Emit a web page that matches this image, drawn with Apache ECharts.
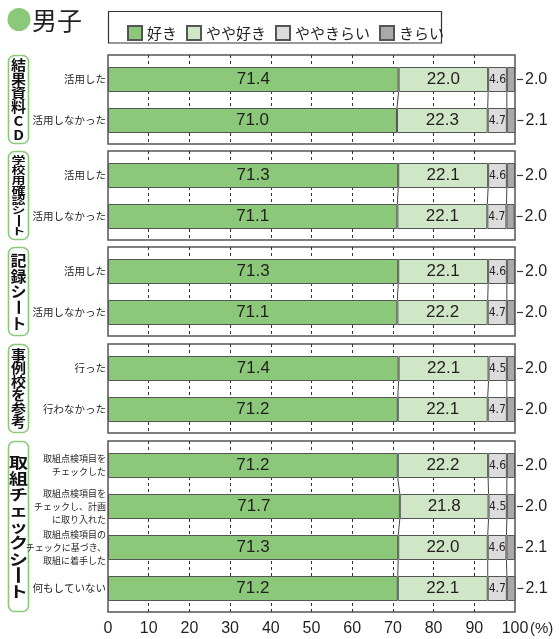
<!DOCTYPE html>
<html><head><meta charset="utf-8">
<script src="https://cdn.jsdelivr.net/npm/echarts@6/dist/echarts.min.js"></script>
<style>html,body{margin:0;padding:0;background:#fff}#c{width:559px;height:639px}</style>
</head><body><div id="c"></div>
<script>
// ---- data ----
const groupNames = ['結果資料CD','学校用確認シート','記録シート','事例校を参考','取組チェックシート'];
const categories = [
  ['活用した','活用しなかった'],
  ['活用した','活用しなかった'],
  ['活用した','活用しなかった'],
  ['行った','行わなかった'],
  ['取組点検項目を\nチェックした','取組点検項目を\nチェックし、計画\nに取り入れた','取組点検項目の\nチェックに基づき、\n取組に着手した','何もしていない']
];
const seriesNames = ['好き','やや好き','ややきらい','きらい'];
const like        = [[71.4,71.0],[71.3,71.1],[71.3,71.1],[71.4,71.2],[71.2,71.7,71.3,71.2]];
const likeSome    = [[22.0,22.3],[22.1,22.1],[22.1,22.2],[22.1,22.1],[22.2,21.8,22.0,22.1]];
const dislikeSome = [[4.6,4.7],[4.6,4.7],[4.6,4.7],[4.5,4.7],[4.6,4.5,4.6,4.7]];
const dislike     = [[2.0,2.1],[2.0,2.0],[2.0,2.0],[2.0,2.0],[2.0,2.0,2.1,2.1]];
const xMin = 0, xMax = 100, xStep = 10;
const titleText = '男子';
const unitText = '(%)';

// ---- style / layout ----
const colors = ['#8cc87a','#cfe7c6','#dcdcdc','#a9a9a9'];
const green = '#8cc87a';
const ink = '#231f20';
const latin = "'Liberation Sans', Arial, sans-serif";
const narrow = "'Liberation Sans Narrow', 'DejaVu Sans Condensed', 'Liberation Sans', sans-serif";
const cjk = "'Noto Sans CJK JP', sans-serif";
const plotLeft = 108, plotRight = 515;
const boxTops = [55,151,247,344,441];
const band = 41, inset = 4, padBottom = 3, barW = 25;
const groupLabelStyle = [[15,0.9,9.5],[14,0.7,9],[16,0.95,13],[15,0.88,11],[19,0.8,21]];

const vals = [like, likeSome, dislikeSome, dislike];
const grids = [], xAxes = [], yAxes = [], series = [], graphics = [];

function labelFor(si){
  if (si === 0 || si === 1) return {show:true, position:'inside', fontSize:17, color:ink, fontFamily:latin, formatter:p=>p.value.toFixed(1)};
  if (si === 2) return {show:true, position:'inside', fontSize:12, color:ink, fontFamily:narrow, formatter:p=>p.value.toFixed(1)};
  return {show:true, position:'right', distance:2, formatter:p=>'{d|}{v|'+p.value.toFixed(1)+'}',
    rich:{d:{width:6, height:1.2, backgroundColor:'#333', verticalAlign:'middle'},
          v:{fontSize:16, color:ink, fontFamily:latin, padding:[0,0,0,2], verticalAlign:'middle', lineHeight:18}}};
}

groupNames.forEach((gname, gi) => {
  const n = categories[gi].length;
  const top = boxTops[gi];
  const h = n*band + inset + padBottom;
  const last = gi === groupNames.length - 1;
  // box grid
  grids.push({left:plotLeft, width:plotRight-plotLeft, top:top, height:h, show:true, borderColor:'#555', borderWidth:1.5, backgroundColor:'#fff'});
  let bi = grids.length - 1;
  xAxes.push({gridIndex:bi, type:'value', min:xMin, max:xMax, interval:xStep,
    axisLine:{show:false}, axisTick:{show:false},
    axisLabel:{show:last, fontSize:16, color:ink, margin:9, fontFamily:latin},
    splitLine:{show:true, showMinLine:false, showMaxLine:false, lineStyle:{color:'#333', type:[3,3], width:1}}});
  yAxes.push({gridIndex:bi, type:'value', min:0, max:1, show:false});
  // bar grid
  grids.push({left:plotLeft, width:plotRight-plotLeft, top:top+inset, height:n*band});
  const ci = grids.length - 1;
  xAxes.push({gridIndex:ci, type:'value', min:xMin, max:xMax, show:false});
  yAxes.push({gridIndex:ci, type:'category', inverse:true, data:categories[gi],
    axisLine:{show:false}, axisTick:{show:false},
    axisLabel:{margin:2, color:ink,
      formatter: v => v.indexOf('\n') >= 0 ? v.split('\n').map(l=>'{b|'+l+'}').join('\n') : '{a|'+v+'}',
      rich:{a:{fontSize:10.5, fontFamily:cjk, color:ink}, b:{fontSize:9, lineHeight:13, fontFamily:cjk, color:ink}}}});
  seriesNames.forEach((name, si) => {
    series.push({type:'bar', name:name, stack:'s'+gi, xAxisIndex:ci, yAxisIndex:ci, barWidth:barW,
      data: vals[si][gi], itemStyle:{color:colors[si], borderColor:'#555', borderWidth:1},
      label: labelFor(si), emphasis:{disabled:true}, z:3});
  });
  // series lines between consecutive bars
  const conn = [];
  for (let j = 0; j < n-1; j++){
    let a = 0, b = 0;
    for (let k = 0; k < 3; k++){ a += vals[k][gi][j]; b += vals[k][gi][j+1]; conn.push([a, j, b, j+1]); }
  }
  series.push({type:'custom', xAxisIndex:ci, yAxisIndex:ci, silent:true, z:2, encode:{x:[0,2], y:[1,3]}, data:conn,
    renderItem:(params, api) => {
      const p1 = api.coord([api.value(0), api.value(1)]);
      const p2 = api.coord([api.value(2), api.value(3)]);
      return {type:'line', shape:{x1:p1[0], y1:p1[1]+barW/2, x2:p2[0], y2:p2[1]-barW/2}, style:{stroke:'#444', lineWidth:1}};
    }});
  // group label box
  graphics.push({type:'rect', shape:{x:8.5, y:top+0.5, width:20, height:h-1, r:6}, style:{fill:'none', stroke:green, lineWidth:1.6}});
  const chars = Array.from(gname);
  const [fs, sy, pad] = groupLabelStyle[gi];
  const first = top + pad, lastY = top + h - pad;
  const step = (lastY - first) / (chars.length - 1);
  chars.forEach((ch, k) => {
    graphics.push({type:'text', x:18.5, y:first + k*step, scaleY: ch === 'ー' ? 1 : sy,
      rotation: ch === 'ー' ? Math.PI/2 : 0,
      style:{text:ch, fill:'#111', font:'bold '+fs+'px '+cjk, align:'center', verticalAlign:'middle'}});
  });
});

// title, legend frame, unit
graphics.push({type:'circle', shape:{cx:19, cy:19.5, r:11.5}, style:{fill:green}});
graphics.push({type:'text', x:32, y:20, style:{text:titleText, fill:ink, font:'25px '+cjk, align:'left', verticalAlign:'middle'}});
graphics.push({type:'rect', shape:{x:108.5, y:11.5, width:333, height:31.5}, style:{fill:'none', stroke:'#333', lineWidth:1.2}});
graphics.push({type:'text', x:530, y:629, style:{text:unitText, fill:ink, font:'15px '+latin, align:'left', verticalAlign:'middle'}});

const chart = echarts.init(document.getElementById('c'), null, {renderer:'canvas'});
chart.setOption({
  animation:false,
  backgroundColor:'#fff',
  legend:{left:122, top:20, itemWidth:14, itemHeight:14, itemGap:9, icon:'rect', selectedMode:false,
    data:seriesNames, textStyle:{fontSize:15, color:ink, fontFamily:cjk}},
  grid:grids, xAxis:xAxes, yAxis:yAxes, series:series,
  graphic:{elements:graphics}
});
</script></body></html>
